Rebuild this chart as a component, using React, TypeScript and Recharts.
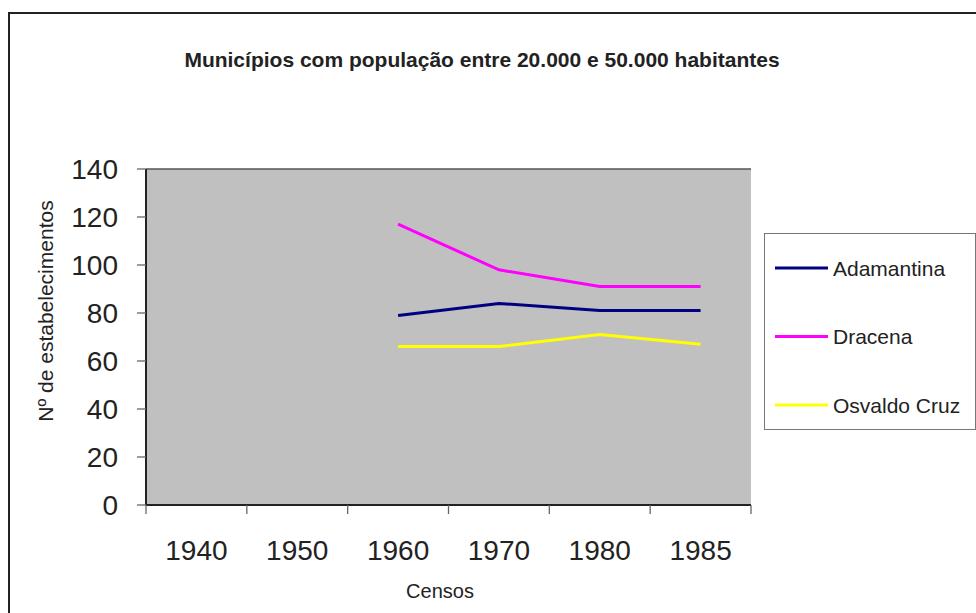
import React from 'react';
import { LineChart, Line, XAxis, YAxis, CartesianGrid, Legend, Label } from 'recharts';

const CATEGORIES = ['1940', '1950', '1960', '1970', '1980', '1985'];
const ADAMANTINA = [null, null, 79, 84, 81, 81];
const DRACENA = [null, null, 117, 98, 91, 91];
const OSVALDO_CRUZ = [null, null, 66, 66, 71, 67];
const Y_TICKS = [0, 20, 40, 60, 80, 100, 120, 140];

const SERIES = [
  { key: 'adamantina', name: 'Adamantina', color: '#000080', values: ADAMANTINA },
  { key: 'dracena', name: 'Dracena', color: '#FF00FF', values: DRACENA },
  { key: 'osvaldo', name: 'Osvaldo Cruz', color: '#FFFF00', values: OSVALDO_CRUZ },
];

const FONT = "'Liberation Sans', Arial, sans-serif";

const data = CATEGORIES.map((year, i) => {
  const row: Record<string, string | number | null> = { year };
  SERIES.forEach((s) => {
    row[s.key] = s.values[i];
  });
  return row;
});

// tick mark at the band edges, label in the middle of the band (Excel style)
const XTick = (props: any) => {
  const { x, y, payload } = props;
  const half = payload?.offset || 50.4;
  const isLast = payload?.value === CATEGORIES[CATEGORIES.length - 1];
  return (
    <g>
      <line x1={x - half} x2={x - half} y1={y - 9} y2={y} stroke="#666" strokeWidth={1.3} />
      {isLast && <line x1={x + half} x2={x + half} y1={y - 9} y2={y} stroke="#666" strokeWidth={1.3} />}
      <text x={x} y={y + 46} textAnchor="middle" fontSize={28} fill="#222" fontFamily={FONT}>
        {payload.value}
      </text>
    </g>
  );
};

const YTitle = () => {
  const cx = 45;
  const cy = 311;
  return (
    <text
      x={cx}
      y={cy}
      transform={`rotate(-90 ${cx} ${cy})`}
      textAnchor="middle"
      dominantBaseline="central"
      fontSize={21}
      fill="#222"
      fontFamily={FONT}
    >
      Nº de estabelecimentos
    </text>
  );
};

const XTitle = () => (
  <text x={440} y={598} textAnchor="middle" fontSize={20} fill="#222" fontFamily={FONT}>
    Censos
  </text>
);

const renderLegend = (props: any) => {
  const { payload } = props;
  return (
    <div
      style={{
        width: 212,
        height: 197,
        border: '1.5px solid #777',
        background: '#fff',
        boxSizing: 'border-box',
      }}
    >
      <svg width={212} height={197} style={{ display: 'block' }}>
        {(payload || []).map((entry: any, i: number) => {
          const cy = 34 + i * 68.5;
          return (
            <g key={entry.value}>
              <line x1={10} x2={63} y1={cy} y2={cy} stroke={entry.color} strokeWidth={3} />
              <text x={68} y={cy + 7.5} fontSize={21} fill="#222" fontFamily={FONT}>
                {entry.value}
              </text>
            </g>
          );
        })}
      </svg>
    </div>
  );
};

export default function App() {
  return (
    <div
      style={{
        position: 'absolute',
        left: 0,
        top: 0,
        width: 976,
        height: 613,
        background: '#fff',
        overflow: 'hidden',
        fontFamily: FONT,
      }}
    >
      <div
        style={{
          position: 'absolute',
          left: 8,
          top: 12,
          width: 1000,
          height: 700,
          border: '2px solid #222',
        }}
      />
      <div
        style={{
          position: 'absolute',
          left: 0,
          width: 964,
          top: 50,
          textAlign: 'center',
          fontSize: 21,
          lineHeight: '20px',
          fontWeight: 'bold',
          color: '#222',
        }}
      >
        Municípios com população entre 20.000 e 50.000 habitantes
      </div>
      <LineChart
        width={976}
        height={613}
        data={data}
        margin={{ top: 169, right: 225, bottom: 48, left: 0 }}
        style={{ position: 'absolute', left: 0, top: 0, fontFamily: FONT }}
      >
        <CartesianGrid
          vertical={false}
          fill="#C0C0C0"
          fillOpacity={1}
          stroke="#555"
          strokeWidth={1.3}
        />
        <XAxis
          dataKey="year"
          scale="band"
          height={60}
          tickLine={false}
          tickSize={9}
          tickMargin={0}
          axisLine={{ stroke: '#222', strokeWidth: 2 }}
          tick={<XTick />}
          interval={0}
        >
          <Label content={<XTitle />} />
        </XAxis>
        <YAxis
          yAxisId="left"
          width={146}
          domain={[0, 140]}
          ticks={Y_TICKS}
          interval={0}
          tickSize={9}
          tickMargin={19}
          tickLine={{ stroke: '#666', strokeWidth: 1.3 }}
          axisLine={{ stroke: '#222', strokeWidth: 2 }}
          tick={{ fontSize: 28, fill: '#222', fontFamily: FONT }}
        >
          <Label content={<YTitle />} />
        </YAxis>
        <YAxis
          yAxisId="right"
          orientation="right"
          width={0}
          domain={[0, 140]}
          tick={false}
          tickLine={false}
          axisLine={{ stroke: '#888', strokeWidth: 2 }}
        />
        {SERIES.map((s) => (
          <Line
            key={s.key}
            yAxisId="left"
            type="linear"
            dataKey={s.key}
            name={s.name}
            stroke={s.color}
            strokeWidth={3}
            dot={false}
            activeDot={false}
            isAnimationActive={false}
          />
        ))}
        <Legend
          layout="vertical"
          align="center"
          verticalAlign="middle"
          content={renderLegend}
          wrapperStyle={{ position: 'absolute', left: 764, top: 233, width: 212, height: 197 }}
        />
      </LineChart>
    </div>
  );
}
